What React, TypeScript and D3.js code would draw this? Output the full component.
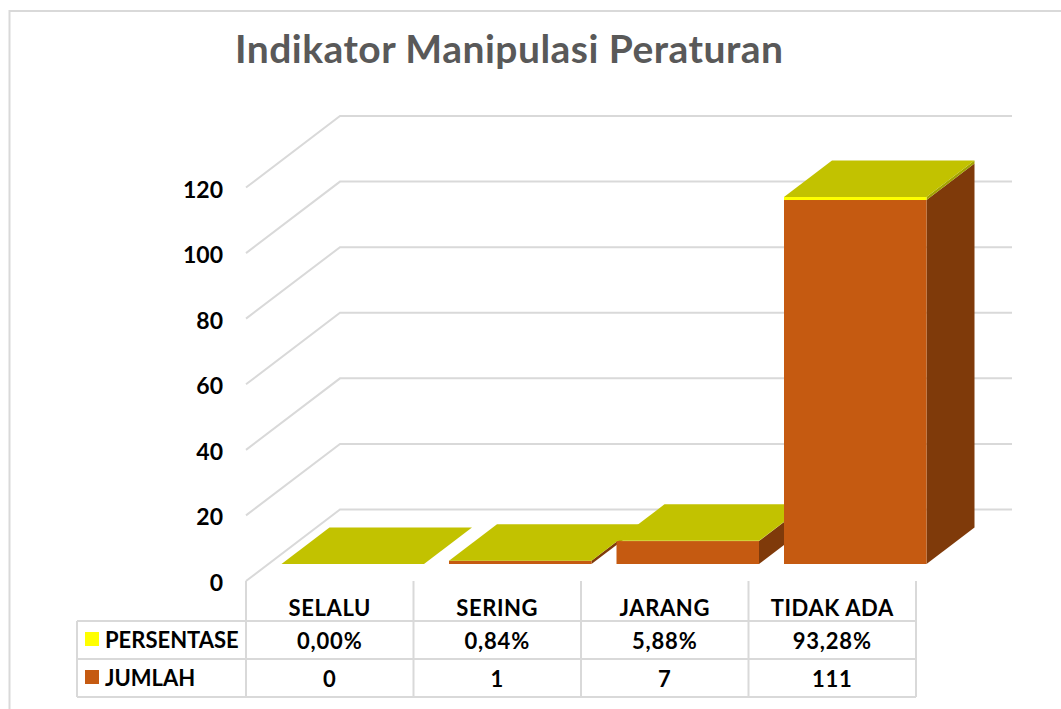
import React from "react";
import * as d3 from "d3";

const categories = ["SELALU", "SERING", "JARANG", "TIDAK ADA"];
const jumlah = [0, 1, 7, 111];
const persentase = [0, 0.0084, 0.0588, 0.9328];
const jumlahLabels = ["0", "1", "7", "111"];
const persentaseLabels = ["0,00%", "0,84%", "5,88%", "93,28%"];
const ticks = [0, 20, 40, 60, 80, 100, 120];
const title = "Indikator Manipulasi Peraturan";

const FONT = "Lato, 'Open Sans', sans-serif";
const GRID = "#d9d9d9";

const x = d3.scaleBand<string>().domain(categories).range([246, 916]).paddingInner(0).paddingOuter(0);
const y = d3.scaleLinear().domain([0, 120]).range([581, 187.5]);

// oblique projection of the 3D box
const wall = { dx: 94, dy: -71.5 };
const barFront = { dx: 23, dy: -17 };
const barDepth = { dx: 48, dy: -36.5 };
const barW = 142.5;

const poly = (p: [number, number][]) => p.map((q) => q.join(",")).join(" ");

export default function App() {
  const rows = [
    { name: "PERSENTASE", labels: persentaseLabels, color: "#ffff00", cy: 640 },
    { name: "JUMLAH", labels: jumlahLabels, color: "#c55a11", cy: 678 },
  ];
  return (
    <svg width={1061} height={709} style={{ position: "absolute", left: 0, top: 0, background: "#fff" }} fontFamily={FONT}>
      <path d="M1061,11 H9.5 V709" fill="none" stroke={GRID} strokeWidth={2} />
      <text x={509} y={62.5} textAnchor="middle" fontSize={39} fontWeight={700} fill="#595959" textLength={548} lengthAdjust="spacing">
        {title}
      </text>

      {ticks.map((t) => {
        const yy = y(t);
        return (
          <g key={t}>
            <polyline
              points={poly([[246, yy], [246 + wall.dx, yy + wall.dy], [1012, yy + wall.dy]])}
              fill="none" stroke={GRID} strokeWidth={2}
            />
            <text x={223} y={yy + 10} textAnchor="end" fontSize={23} fontWeight={700} fill="#000">{t}</text>
          </g>
        );
      })}

      {categories.map((c, i) => {
        const x0 = (x(c) as number) + (x.bandwidth() - barW) / 2 + barFront.dx;
        const x1 = x0 + barW;
        const base = y(0) + barFront.dy;
        const yO = y(jumlah[i]) + barFront.dy;
        const yT = y(jumlah[i] + persentase[i]) + barFront.dy;
        const dx = barDepth.dx, dy = barDepth.dy;
        return (
          <g key={c}>
            <polygon points={poly([[x1, base], [x1 + dx, base + dy], [x1 + dx, yO + dy], [x1, yO]])} fill="#7f3a0a" />
            <polygon points={poly([[x1, yO], [x1 + dx, yO + dy], [x1 + dx, yT + dy], [x1, yT]])} fill="#a3a300" />
            <rect x={x0} y={yO} width={barW} height={base - yO} fill="#c55a11" />
            <rect x={x0} y={yT} width={barW} height={yO - yT} fill="#ffff00" />
            <polygon points={poly([[x0, yT], [x0 + dx, yT + dy], [x1 + dx, yT + dy], [x1, yT]])} fill="#c2c200" />
          </g>
        );
      })}

      <g stroke={GRID} strokeWidth={2} fill="none">
        <line x1={77} x2={916} y1={621} y2={621} />
        <line x1={77} x2={916} y1={659} y2={659} />
        <line x1={77} x2={916} y1={697} y2={697} />
        <line x1={77} x2={77} y1={621} y2={697} />
        {categories.map((c) => (
          <line key={c} x1={x(c) as number} x2={x(c) as number} y1={581} y2={697} />
        ))}
        <line x1={916} x2={916} y1={581} y2={697} />
      </g>

      {categories.map((c) => (
        <text key={c} x={(x(c) as number) + x.bandwidth() / 2} y={616} textAnchor="middle" fontSize={22} fontWeight={700} fill="#000" letterSpacing={0.6}>{c}</text>
      ))}

      {rows.map((r) => (
        <g key={r.name}>
          <rect x={85} y={r.cy - 8} width={14} height={14} fill={r.color} />
          <text x={105} y={r.cy + 8} fontSize={22} fontWeight={700} fill="#000">{r.name}</text>
          {r.labels.map((l, i) => (
            <text key={i} x={(x(categories[i]) as number) + x.bandwidth() / 2} y={r.cy + 9} textAnchor="middle" fontSize={22} fontWeight={700} fill="#000" letterSpacing={0.8}>{l}</text>
          ))}
        </g>
      ))}
    </svg>
  );
}
